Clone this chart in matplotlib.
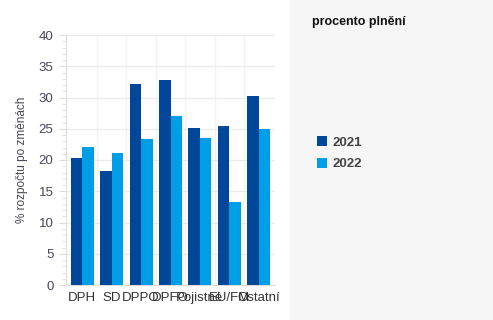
import matplotlib.pyplot as plt
import numpy as np
from matplotlib.patches import Rectangle
from matplotlib.ticker import MultipleLocator

plt.rcParams['font.family'] = ['Liberation Sans', 'DejaVu Sans']

categories = ['DPH', 'SD', 'DPPO', 'DPFO', 'Pojistné', 'EU/FM', 'Ostatní']
years = ['2021', '2022']
values_2021 = [20.3, 18.2, 32.2, 32.8, 25.1, 25.4, 30.2]
values_2022 = [22.1, 21.1, 23.4, 27.0, 23.5, 13.3, 25.0]
colors = ['#00479a', '#009ee6']

fig = plt.figure(figsize=(4.93, 3.2), dpi=100)
fig.patches.append(Rectangle((290 / 493, 0), 1, 1, transform=fig.transFigure,
                             facecolor='#f6f6f6', edgecolor='none', zorder=0))

ax = fig.add_axes([66 / 493, 35 / 320, 209 / 493, 250 / 320])
x = np.arange(len(categories))
w = 0.39
ax.bar(x - w / 2, values_2021, w, color=colors[0], label=years[0], zorder=3)
ax.bar(x + w / 2, values_2022, w, color=colors[1], label=years[1], zorder=3)

ax.set_xlim(-0.55, len(categories) - 0.45)
ax.set_ylim(0, 40)
ax.yaxis.set_major_locator(MultipleLocator(5))
ax.yaxis.set_minor_locator(MultipleLocator(1))
ax.set_xticks(x)
ax.set_xticklabels(categories, fontsize=9.5, color='#333333')
ax.tick_params(axis='x', length=0, pad=5)
ax.tick_params(axis='y', which='major', length=5, color='#dddddd', labelsize=9.5, labelcolor='#4a4458', pad=4)
ax.tick_params(axis='y', which='minor', length=3, color='#dddddd')
ax.grid(axis='y', color='#ebebeb', linewidth=1, zorder=0)
ax.set_xticks(x[:-1] + 0.5, minor=True)
ax.tick_params(axis='x', which='minor', length=0)
ax.grid(axis='x', which='minor', color='#f3f3f3', linewidth=1, zorder=0)
for s in ['top', 'right']:
    ax.spines[s].set_visible(False)
ax.spines['left'].set_color('#dddddd')
ax.spines['bottom'].set_color('#dddddd')
ax.set_ylabel('% rozpočtu po změnách', fontsize=8.5, color='#4a4458', labelpad=8)

fig.text(312 / 493, 1 - 22 / 320, 'procento plnění', fontsize=9, fontweight='bold',
         color='#111111', va='center')
handles, labels = ax.get_legend_handles_labels()
fig.legend(handles, labels, loc='upper left', bbox_to_anchor=(305 / 493, 1 - 124 / 320),
           frameon=False, prop={'weight': 'bold', 'size': 9.5},
           handlelength=0.8, handleheight=0.8, handletextpad=0.4, labelspacing=0.7,
           labelcolor='#444444')

fig.savefig('out.png', dpi=100)
